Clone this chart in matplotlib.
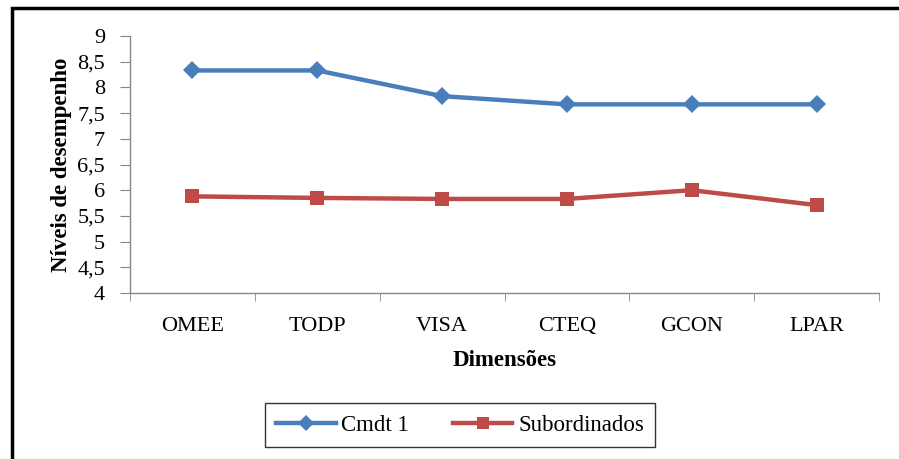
import matplotlib
matplotlib.use("Agg")
import matplotlib.pyplot as plt
from matplotlib.patches import Rectangle
from matplotlib.lines import Line2D

categories = ["OMEE", "TODP", "VISA", "CTEQ", "GCON", "LPAR"]
cmdt = [8.33, 8.33, 7.83, 7.67, 7.67, 7.67]
subordinados = [5.88, 5.85, 5.83, 5.83, 6.0, 5.71]
yticks = [4, 4.5, 5, 5.5, 6, 6.5, 7, 7.5, 8, 8.5, 9]
ytick_labels = ["4", "4,5", "5", "5,5", "6", "6,5", "7", "7,5", "8", "8,5", "9"]

plt.rcParams["font.family"] = ["Liberation Serif", "DejaVu Serif"]

W, H = 899, 459
fig = plt.figure(figsize=(W / 100, H / 100), dpi=100)

# outer chart frame
fig.patches.append(Rectangle((12 / W, -0.05), 1.0, 1 - 8 / H + 0.05,
                             transform=fig.transFigure, fill=False,
                             edgecolor="black", linewidth=2.5, zorder=0))

ax = fig.add_axes([130 / W, 1 - 293 / H, (879 - 130) / W, (293 - 36) / H])
x = list(range(len(categories)))
blue = "#4A7EBB"
red = "#BE4B48"
ax.plot(x, cmdt, color=blue, linewidth=3.2, marker="D", markersize=9,
        markeredgewidth=0, label="Cmdt 1", zorder=3)
ax.plot(x, subordinados, color=red, linewidth=3.2, marker="s", markersize=9.5,
        markeredgewidth=0, label="Subordinados", zorder=3)

ax.set_xlim(-0.5, len(categories) - 0.5)
ax.set_ylim(4, 9)
ax.set_yticks(yticks)
ax.set_yticklabels(ytick_labels, fontsize=16)
ax.set_xticks(x)
ax.set_xticklabels(categories, fontsize=16)
ax.set_xticks([i - 0.5 for i in range(len(categories) + 1)], minor=True)
ax.tick_params(axis="x", which="major", length=0, pad=17)
ax.tick_params(axis="x", which="minor", length=6, color="#888888", direction="out")
ax.tick_params(axis="y", length=7, color="#888888", direction="out", pad=11)

for s in ["top", "right"]:
    ax.spines[s].set_visible(False)
for s in ["left", "bottom"]:
    ax.spines[s].set_color("#888888")
    ax.spines[s].set_linewidth(1)

ax.set_ylabel("Níveis de desempenho", fontsize=16.5, fontweight="bold", labelpad=4)
ax.set_xlabel("Dimensões", fontsize=16.5, fontweight="bold", labelpad=10)

handles = [Line2D([], [], color=blue, linewidth=3.2, marker="D", markersize=8, markeredgewidth=0),
           Line2D([], [], color=red, linewidth=3.2, marker="s", markersize=9, markeredgewidth=0)]
leg = fig.legend(handles, ["Cmdt 1", "Subordinados"], loc="center",
                 bbox_to_anchor=(460 / W, 1 - 425 / H), ncol=2, fontsize=16.5,
                 frameon=True, fancybox=False, edgecolor="black",
                 handlelength=2.6, handletextpad=0.25, columnspacing=1.9,
                 borderpad=0.5)
leg.get_frame().set_linewidth(1.0)

fig.savefig("out.png", dpi=100)
